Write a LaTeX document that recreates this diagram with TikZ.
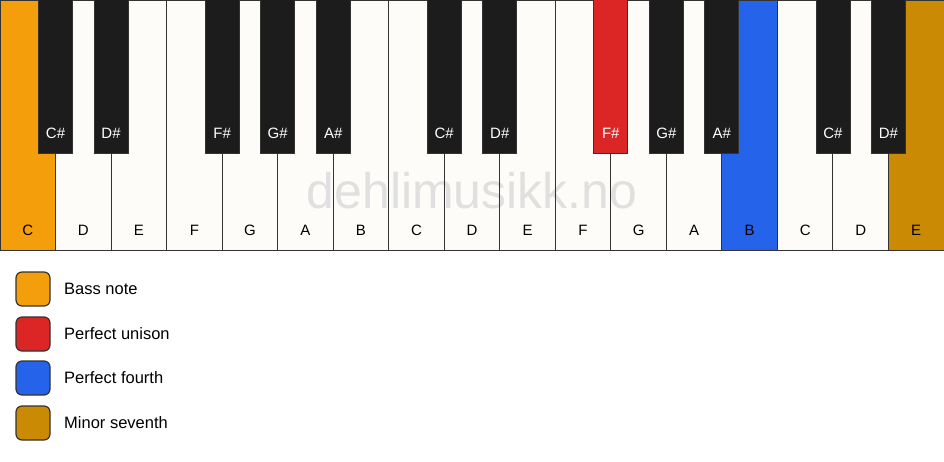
\documentclass[tikz,border=0pt]{standalone}
\usepackage{fontspec}
\setmainfont{Liberation Sans}
\definecolor{bassc}{HTML}{F59E0B}
\definecolor{unic}{HTML}{DC2626}
\definecolor{fourc}{HTML}{2563EB}
\definecolor{sevc}{HTML}{CA8A04}
\definecolor{ivory}{HTML}{FDFCF9}
\definecolor{ebony}{HTML}{1C1C1C}
\definecolor{edge}{HTML}{333333}
\definecolor{wm}{HTML}{E0E0E0}
\begin{document}
\begin{tikzpicture}[x=1pt,y=-1pt,
  wkey/.style={draw=edge,line width=1pt},
  bkey/.style={draw=edge,line width=0.8pt,fill=ebony},
  wlab/.style={font=\fontsize{15}{15}\selectfont,text=black},
  blab/.style={font=\fontsize{15}{15}\selectfont,text=white},
  legbox/.style={draw=edge,line width=1.2pt,rounded corners=6pt,minimum width=34pt,minimum height=34pt,inner sep=0pt},
  legtext/.style={font=\fontsize{16.5}{16.5}\selectfont,anchor=west,inner sep=0pt}]
\useasboundingbox (0,0) rectangle (944,461);
\fill[white] (0,0) rectangle (944,461);
\def\w{55.5294}
% white key fills
\foreach \n/\c [count=\i from 0] in {C/bassc,D/ivory,E/ivory,F/ivory,G/ivory,A/ivory,B/ivory,C/ivory,D/ivory,E/ivory,F/ivory,G/ivory,A/ivory,B/fourc,C/ivory,D/ivory,E/sevc}{
  \fill[\c] ({\i*\w},0) rectangle ({(\i+1)*\w},250);
}
% watermark
\node[text=wm,font=\fontsize{50}{50}\selectfont,inner sep=0pt] (wmark) at (472,191) {dehlimusikk.no};
% white key outlines and labels
\foreach \n/\c [count=\i from 0] in {C/bassc,D/ivory,E/ivory,F/ivory,G/ivory,A/ivory,B/ivory,C/ivory,D/ivory,E/ivory,F/ivory,G/ivory,A/ivory,B/fourc,C/ivory,D/ivory,E/sevc}{
  \draw[wkey] ({\i*\w},0) rectangle ({(\i+1)*\w},250);
  \node[wlab] (w\i) at ({(\i+0.5)*\w},230) {\n};
}
% black keys
\foreach \b/\n/\c in {1/C\#/ebony,2/D\#/ebony,4/F\#/ebony,5/G\#/ebony,6/A\#/ebony,8/C\#/ebony,9/D\#/ebony,11/F\#/unic,12/G\#/ebony,13/A\#/ebony,15/C\#/ebony,16/D\#/ebony}{
  \draw[bkey,fill=\c] ({\b*\w-17},-1) rectangle ({\b*\w+17},153);
  \node[blab] (b\b) at ({\b*\w},133) {\n};
}
% legend
\node[legbox,fill=bassc] (l1) at (33,289) {};
\node[legtext] (t1) at (64,289) {Bass note};
\node[legbox,fill=unic] (l2) at (33,334) {};
\node[legtext] (t2) at (64,334) {Perfect unison};
\node[legbox,fill=fourc] (l3) at (33,378) {};
\node[legtext] (t3) at (64,378) {Perfect fourth};
\node[legbox,fill=sevc] (l4) at (33,423) {};
\node[legtext] (t4) at (64,423) {Minor seventh};
\end{tikzpicture}
\end{document}
